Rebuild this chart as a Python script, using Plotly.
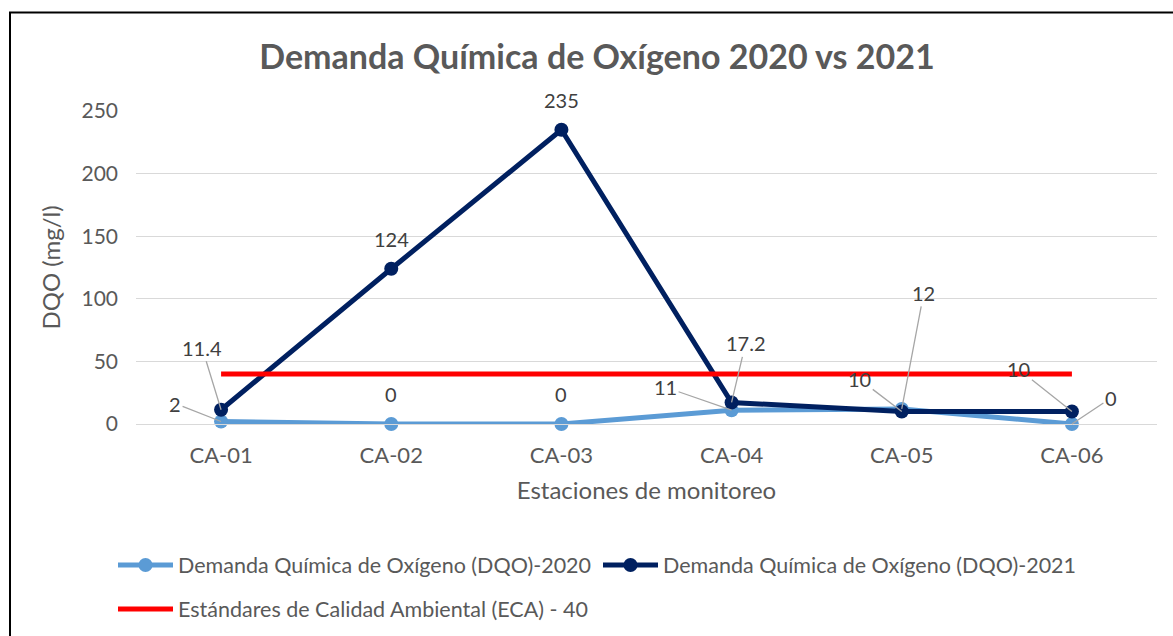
import plotly.graph_objects as go

stations = ["CA-01", "CA-02", "CA-03", "CA-04", "CA-05", "CA-06"]
dqo_2020 = [2, 0, 0, 11, 12, 0]
dqo_2021 = [11.4, 124, 235, 17.2, 10, 10]
eca_value = 40
eca = [eca_value] * len(stations)

name_2020 = "Demanda Química de Oxígeno (DQO)-2020"
name_2021 = "Demanda Química de Oxígeno (DQO)-2021"
name_eca = "Estándares de Calidad Ambiental (ECA) - 40"
y_ticks = [0, 50, 100, 150, 200, 250]

# label offsets in pixels (dx, dy); None -> plain label above the point
offs_2020 = [(-46, -18), None, None, (-66, -23), (22, -116), (39, -26)]
offs_2021 = [(-19, -62), None, None, (14, -59), (-42, -32), (-53, -42)]

FONT = "Lato"
C_2020 = "#5B9BD5"
C_2021 = "#002060"
C_ECA = "#FF0000"
TXT = "#595959"
LBL = "#404040"

fig = go.Figure()
fig.add_trace(go.Scatter(x=stations, y=dqo_2020, name=name_2020, mode="lines+markers",
                         line=dict(color=C_2020, width=5), marker=dict(size=14, color=C_2020),
                         cliponaxis=False, legend="legend"))
fig.add_trace(go.Scatter(x=stations, y=dqo_2021, name=name_2021, mode="lines+markers",
                         line=dict(color=C_2021, width=5), marker=dict(size=14, color=C_2021),
                         cliponaxis=False, legend="legend2"))
fig.add_trace(go.Scatter(x=stations, y=eca, name=name_eca, mode="lines",
                         line=dict(color=C_ECA, width=5),
                         cliponaxis=False, legend="legend3"))

ann = []
for series, offs in ((dqo_2020, offs_2020), (dqo_2021, offs_2021)):
    for st, v, o in zip(stations, series, offs):
        txt = f"{v:g}"
        if o is None:
            ann.append(dict(x=st, y=v, xref="x", yref="y", text=txt, showarrow=False,
                            yshift=30, font=dict(family=FONT, size=20, color=LBL)))
        else:
            ann.append(dict(x=st, y=v, xref="x", yref="y", text=txt, showarrow=True,
                            ax=o[0], ay=o[1], arrowhead=0, arrowwidth=1.3,
                            arrowcolor="#A6A6A6", standoff=0,
                            font=dict(family=FONT, size=20, color=LBL)))

leg_common = dict(orientation="h", xanchor="left", yanchor="middle", itemwidth=55,
                  font=dict(family=FONT, size=21.5, color=TXT), bgcolor="rgba(0,0,0,0)",
                  xref="container", yref="container")

fig.update_layout(
    width=1173, height=636,
    margin=dict(l=136, r=16, t=111, b=212),
    paper_bgcolor="white", plot_bgcolor="white",
    title=dict(text="<b>Demanda Química de Oxígeno 2020 vs 2021</b>",
               font=dict(family=FONT, size=34, color=TXT),
               xref="container", yref="container", x=597 / 1173, y=1 - 57 / 636,
               xanchor="center", yanchor="middle"),
    xaxis=dict(range=[-0.5, 5.5], showgrid=False, showline=True, linecolor="#D9D9D9",
               linewidth=1, ticks="", ticklabelstandoff=12,
               tickfont=dict(family=FONT, size=22, color=TXT),
               title=dict(text="Estaciones de monitoreo", standoff=14,
                          font=dict(family=FONT, size=24, color=TXT))),
    yaxis=dict(range=[0, 250], tickvals=y_ticks, showgrid=True, gridcolor="#D9D9D9",
               gridwidth=1, zeroline=False, ticks="", ticklabelstandoff=17,
               tickfont=dict(family=FONT, size=21, color=TXT),
               title=dict(text="DQO (mg/l)", standoff=14,
                          font=dict(family=FONT, size=24, color=TXT))),
    legend=dict(x=113 / 1173, y=1 - 565 / 636, **leg_common),
    legend2=dict(x=598 / 1173, y=1 - 565 / 636, **leg_common),
    legend3=dict(x=113 / 1173, y=1 - 609 / 636, **leg_common),
    annotations=ann,
    shapes=[dict(type="rect", xref="paper", yref="paper",
                 x0=(10 - 136) / 1021, x1=(1200 - 136) / 1021,
                 y0=(423.7 - 700) / 312.7, y1=(423.7 - 12.7) / 312.7,
                 line=dict(color="black", width=2), fillcolor="rgba(0,0,0,0)",
                 layer="above")],
    showlegend=True,
)

fig.write_html("out.html", config={"displayModeBar": False},
               post_script="document.body.style.margin='0px';")
